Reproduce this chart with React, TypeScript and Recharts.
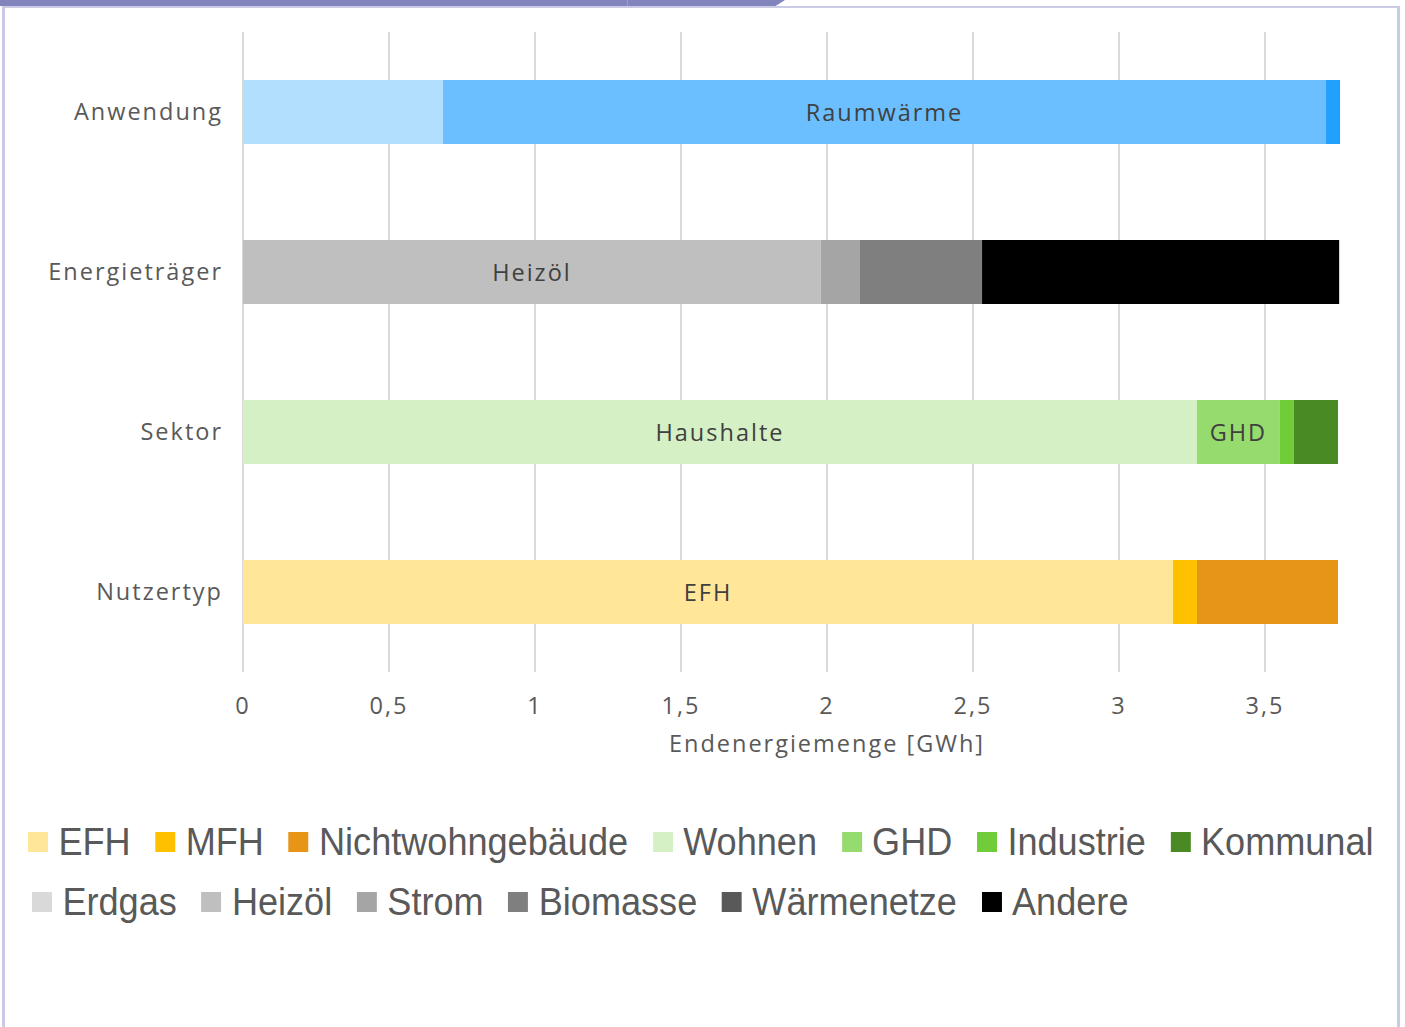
import { BarChart, Bar, XAxis, YAxis, CartesianGrid, LabelList, Label } from 'recharts';

// Kategorien (Zeilen) des Diagramms
const categories = ['Anwendung', 'Energieträger', 'Sektor', 'Nutzertyp'];

// Werte in GWh
const anwendungNames = ['Warmwasser', 'Raumwärme', 'Prozesswärme'];
const anwendungValues = [0.685, 3.024, 0.048];

const traegerNames = ['Erdgas', 'Heizöl', 'Strom', 'Biomasse', 'Wärmenetze', 'Andere'];
const traegerValues = [0, 1.979, 0.134, 0.418, 0, 1.223];

const sektorNames = ['Wohnen', 'GHD', 'Industrie', 'Kommunal'];
const sektorValues = [3.267, 0.284, 0.048, 0.151];

const nutzerNames = ['EFH', 'MFH', 'Nichtwohngebäude'];
const nutzerValues = [3.185, 0.082, 0.483];

const xTicks = [0, 0.5, 1, 1.5, 2, 2.5, 3, 3.5];

const legendRow1 = ['EFH', 'MFH', 'Nichtwohngebäude', 'Wohnen', 'GHD', 'Industrie', 'Kommunal'];
const legendRow2 = ['Erdgas', 'Heizöl', 'Strom', 'Biomasse', 'Wärmenetze', 'Andere'];

// Beschriftungen im Balken
const barLabels: Record<string, string> = {
  Raumwärme: 'Raumwärme',
  Heizöl: 'Heizöl',
  Wohnen: 'Haushalte',
  GHD: 'GHD',
  EFH: 'EFH',
};

const colors: Record<string, string> = {
  Warmwasser: '#B3DFFF',
  Raumwärme: '#6BBFFF',
  Prozesswärme: '#21A0FF',
  Erdgas: '#D9D9D9',
  Heizöl: '#BFBFBF',
  Strom: '#A5A5A5',
  Biomasse: '#7F7F7F',
  Wärmenetze: '#595959',
  Andere: '#000000',
  Wohnen: '#D5F0C5',
  GHD: '#95DB6E',
  Industrie: '#70CC38',
  Kommunal: '#4A8A24',
  EFH: '#FFE699',
  MFH: '#FFC000',
  Nichtwohngebäude: '#E69517',
};

const groups: [string[], number[]][] = [
  [anwendungNames, anwendungValues],
  [traegerNames, traegerValues],
  [sektorNames, sektorValues],
  [nutzerNames, nutzerValues],
];

const seriesNames = groups.flatMap(([names]) => names);

const data = categories.map((cat, i) => {
  const row: Record<string, string | number> = { name: cat };
  seriesNames.forEach((s) => (row[s] = 0));
  const [names, values] = groups[i];
  names.forEach((n, j) => (row[n] = values[j]));
  return row;
});

const fmt = (v: number) => String(v).replace('.', ',');

const axisFont = '"Open Sans", "Noto Sans", sans-serif';
const axisText = { fontSize: 23.5, fill: '#595959', fontFamily: axisFont, letterSpacing: 2 };

function LegendRow({ items, left, top }: { items: string[]; left: number; top: number }) {
  return (
    <div
      style={{
        position: 'absolute',
        left,
        top,
        display: 'flex',
        alignItems: 'center',
        whiteSpace: 'nowrap',
        fontFamily: '"Liberation Sans", Arial, sans-serif',
        fontSize: 38,
        color: '#595959',
        height: 44,
        transform: 'scaleX(0.95)',
        transformOrigin: 'left center',
      }}
    >
      {items.map((name) => (
        <div key={name} style={{ display: 'flex', alignItems: 'center', marginRight: 26 }}>
          <span style={{ width: 21, height: 20, background: colors[name], marginRight: 11, display: 'inline-block' }} />
          <span>{name}</span>
        </div>
      ))}
    </div>
  );
}

export default function App() {
  return (
    <div
      style={{
        position: 'fixed',
        left: 0,
        top: 0,
        width: 1405,
        height: 1027,
        overflow: 'hidden',
        background: '#fff',
      }}
    >
      <BarChart
        width={1420}
        height={762}
        data={data}
        layout="vertical"
        margin={{ top: 32, right: 9, left: 0, bottom: 0 }}
        barSize={64}
      >
        <CartesianGrid horizontal={false} stroke="#D9D9D9" strokeWidth={2} />
        <XAxis
          type="number"
          domain={[0, 4]}
          ticks={xTicks}
          tickFormatter={fmt}
          axisLine={false}
          tickLine={false}
          tickSize={0}
          tickMargin={25}
          height={90}
          tick={axisText}
        >
          <Label value="Endenergiemenge [GWh]" position="insideBottom" offset={10} style={axisText} />
        </XAxis>
        <YAxis
          type="category"
          dataKey="name"
          width={243}
          axisLine={false}
          tickLine={false}
          tickSize={0}
          tickMargin={20}
          tick={axisText}
        />
        {seriesNames.map((s) => (
          <Bar key={s} dataKey={s} stackId="a" fill={colors[s]} isAnimationActive={false}>
            {barLabels[s] && (
              <LabelList
                dataKey={s}
                content={(p: any) => {
                  if (!p.width || p.width < 20) return null;
                  return (
                    <text
                      x={p.x + p.width / 2}
                      y={p.y + p.height / 2}
                      textAnchor="middle"
                      dominantBaseline="central"
                      fontSize={23.5}
                      fill="#404040"
                      fontFamily={axisFont}
                      letterSpacing={2}
                    >
                      {barLabels[s]}
                    </text>
                  );
                }}
              />
            )}
          </Bar>
        ))}
      </BarChart>

      <LegendRow items={legendRow1} left={28} top={820} />
      <LegendRow items={legendRow2} left={32} top={880} />

      {/* Rahmen */}
      <div style={{ position: 'absolute', left: 0, top: 0, width: 785, height: 6, background: '#8185BB', clipPath: 'polygon(0 0, 100% 0, 98.8% 100%, 0 100%)' }} />
      <div style={{ position: 'absolute', left: 627, top: 0, width: 1, height: 6, background: '#9A9DC8' }} />
      <div style={{ position: 'absolute', left: 2, top: 6, width: 1398, height: 2, background: '#CACAE4' }} />
      <div style={{ position: 'absolute', left: 2, top: 6, width: 3, height: 1021, background: '#CACAE4' }} />
      <div style={{ position: 'absolute', left: 1397, top: 6, width: 3, height: 1021, background: '#CACAE4' }} />
    </div>
  );
}
